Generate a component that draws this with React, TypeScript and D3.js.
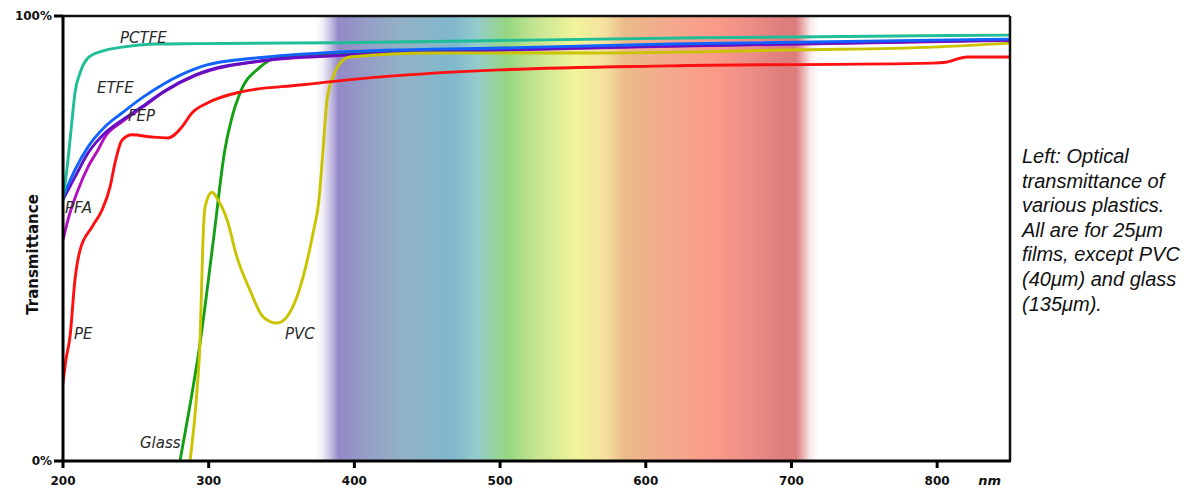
import React from "react";
import * as d3 from "d3";

// ---- data (wavelength nm, transmittance %) ----
const PCTFE: [number, number][] = [
  [200, 58.7], [203.4, 67.6], [206.2, 76.6], [208.2, 82.7], [211.7, 87.2], [217.2, 90.6],
  [226.8, 92.1], [240.5, 93.0], [263.1, 93.7], [290.6, 93.8], [390, 94.0], [500, 94.5],
  [637, 95.1], [850, 95.7],
];
const ETFE: [number, number][] = [
  [200, 59.3], [208.2, 65.4], [217.2, 70.6], [228.8, 75.1], [240.5, 78.2], [254.2, 81.6],
  [270, 84.9], [290.6, 88.1], [298.8, 89.0], [340, 90.8], [390, 91.9], [500, 92.8],
  [616.6, 93.7], [850, 94.8],
];
const FEP: [number, number][] = [
  [200, 58.8], [208.2, 63.8], [217.2, 69.2], [228.8, 73.7], [240.5, 76.6], [254.2, 79.6],
  [270, 83.2], [290.6, 86.7], [340, 90.1], [390, 91.2], [500, 92.4], [616.6, 93.3],
  [850, 94.6],
];
const PFA: [number, number][] = [
  [200, 49.7], [203.4, 54.2], [210.3, 60.9], [217.2, 66.1], [224, 69.9], [228.8, 72.8],
  [240.5, 76.2], [254.2, 79.4], [270, 83.1], [290.6, 86.6], [340, 90.0], [390, 91.1],
  [500, 92.3], [616.6, 93.2], [850, 94.5],
];
const PE: [number, number][] = [
  [200, 17.5], [202, 22.7], [204.8, 27.9], [208.2, 40.7], [211.7, 47.4], [219.9, 52.6],
  [226.8, 56.4], [232.3, 61.6], [235.7, 67.0], [240.5, 72.1], [247.4, 73.3], [261.1, 72.8],
  [272.1, 72.6], [281.7, 75.1], [288.5, 78.2], [298.8, 80.4], [321.5, 82.9], [362.7, 84.5],
  [424.4, 86.5], [500, 87.9], [616.6, 88.8], [797.1, 89.4], [806, 89.6], [820.5, 90.8],
  [850, 90.8],
];
const GLASS: [number, number][] = [
  [280.3, 0], [287.2, 12.6], [294, 26.3], [302.9, 48.8], [311.2, 70.1], [316, 77.3],
  [321.5, 82.7], [335.2, 88.5], [346.9, 90.6], [390, 91.7], [500, 92.6], [850, 94.6],
];
const PVC: [number, number][] = [
  [287.2, 0], [292, 16], [294, 26.5], [295.4, 42.2], [296.1, 49.7], [297.5, 57.1],
  [302.3, 60.4], [306.4, 58.7], [312.6, 54.2], [319.4, 45.8], [328.3, 38.4], [337.3, 32.4],
  [346.9, 31.0], [353.7, 32.4], [360.6, 36.9], [371.6, 51.2], [375.7, 58.7], [378.5, 70.0],
  [381.2, 81.1], [385.3, 86.3], [392.2, 90.1], [397, 90.8], [454, 91.7], [568.6, 91.7],
  [705.8, 92.4], [797.1, 93.0], [850, 93.9],
];

const X_TICKS = [200, 300, 400, 500, 600, 700, 800];
const Y_TICKS: [number, string][] = [[0, "0%"], [100, "100%"]];

const SPECTRUM: [number, string][] = [
  [373, "#ffffff"], [378, "#f2f0f8"], [384, "#c4bce0"], [389, "#9489c8"], [410, "#959fc6"],
  [433, "#93b2c6"], [468, "#7fb8cc"], [484, "#94cccc"], [505, "#96d780"], [526, "#c8e594"],
  [552, "#f2f49a"], [572, "#f4e0a0"], [586, "#ebb98a"], [619, "#f4a88d"], [646, "#fb9b8a"],
  [670, "#ee8f88"], [695, "#dd7d7d"], [703, "#dc7c7b"], [708, "#eab0b0"], [713, "#f8eaea"],
  [719, "#ffffff"],
];

const SERIES: { name: string; data: [number, number][]; color: string }[] = [
  { name: "Glass", data: GLASS, color: "#12a012" },
  { name: "PFA", data: PFA, color: "#b30fbd" },
  { name: "FEP", data: FEP, color: "#6010c4" },
  { name: "ETFE", data: ETFE, color: "#1063ff" },
  { name: "PCTFE", data: PCTFE, color: "#1fbe98" },
  { name: "PVC", data: PVC, color: "#cac400" },
  { name: "PE", data: PE, color: "#ff1010" },
];

const LABELS: [string, number, number][] = [
  ["PCTFE", 239.1, 93.9],
  ["ETFE", 223.3, 82.7],
  ["FEP", 244.6, 76.4],
  ["PFA", 201.4, 55.7],
  ["PE", 207.5, 27.4],
  ["PVC", 352.4, 27.4],
  ["Glass", 252.8, 2.9],
];

const CAPTION = [
  "Left: Optical",
  "transmittance of",
  "various plastics.",
  "All are for 25μm",
  "films, except PVC",
  "(40μm) and glass",
  "(135μm).",
];

export default function App() {
  const W = 1203;
  const H = 488;
  const x = d3.scaleLinear().domain([200, 850]).range([63, 1010]);
  const y = d3.scaleLinear().domain([0, 100]).range([461, 16]);
  const line = d3
    .line<[number, number]>()
    .x((d) => x(d[0]))
    .y((d) => y(d[1]))
    .curve(d3.curveMonotoneX);

  const sx0 = x(SPECTRUM[0][0]);
  const sx1 = x(SPECTRUM[SPECTRUM.length - 1][0]);
  const boldFont = "'DejaVu Sans', sans-serif";

  return (
    <svg
      width={W}
      height={H}
      style={{ position: "absolute", left: 0, top: 0, background: "#fff" }}
    >
      <defs>
        <linearGradient id="spec" gradientUnits="userSpaceOnUse" x1={sx0} x2={sx1} y1={0} y2={0}>
          {SPECTRUM.map(([nm, c], i) => (
            <stop key={i} offset={(x(nm) - sx0) / (sx1 - sx0)} stopColor={c} />
          ))}
        </linearGradient>
        <clipPath id="plot">
          <rect x={x(200)} y={y(100)} width={x(850) - x(200)} height={y(0) - y(100)} />
        </clipPath>
      </defs>
      <rect x={0} y={0} width={W} height={H} fill="#fff" />
      <rect
        x={sx0}
        y={y(100)}
        width={sx1 - sx0}
        height={y(0) - y(100)}
        fill="url(#spec)"
      />
      <g clipPath="url(#plot)">
        {SERIES.map((s) => (
          <path
            key={s.name}
            d={line(s.data) || ""}
            fill="none"
            stroke={s.color}
            strokeWidth={2.9}
            strokeLinejoin="round"
            strokeLinecap="round"
          />
        ))}
      </g>
      {LABELS.map(([t, nm, v]) => (
        <text
          key={t}
          x={x(nm)}
          y={y(v)}
          fontFamily="'DejaVu Sans', sans-serif"
          fontStyle="italic"
          fontSize={15}
          fill="#2a2a2a"
        >
          {t}
        </text>
      ))}
      {/* frame */}
      <line x1={x(200)} x2={x(850)} y1={y(100)} y2={y(100)} stroke="#111" strokeWidth={2.5} />
      <line x1={x(850)} x2={x(850)} y1={y(100)} y2={y(0)} stroke="#111" strokeWidth={2.5} />
      {/* axes */}
      <line x1={x(200)} x2={x(200)} y1={y(100) - 1} y2={y(0) + 1} stroke="#000" strokeWidth={3} />
      <line x1={x(200) - 1} x2={x(850) + 1} y1={y(0)} y2={y(0)} stroke="#000" strokeWidth={3} />
      {Y_TICKS.map(([v, lab]) => (
        <g key={lab}>
          <line x1={x(200) - 9} x2={x(200)} y1={y(v)} y2={y(v)} stroke="#000" strokeWidth={3} />
          <text
            x={x(200) - 11}
            y={y(v)}
            dy="0.36em"
            textAnchor="end"
            fontFamily={boldFont}
            fontWeight="bold"
            fontSize={12}
            fill="#111"
          >
            {lab}
          </text>
        </g>
      ))}
      {X_TICKS.map((t) => (
        <g key={t}>
          <line x1={x(t)} x2={x(t)} y1={y(0)} y2={y(0) + 7} stroke="#000" strokeWidth={3} />
          <text
            x={x(t)}
            y={485}
            textAnchor="middle"
            fontFamily={boldFont}
            fontWeight="bold"
            fontSize={12}
            fill="#111"
          >
            {t}
          </text>
        </g>
      ))}
      <text
        x={x(836)}
        y={485}
        textAnchor="middle"
        fontFamily={boldFont}
        fontWeight="bold"
        fontStyle="italic"
        fontSize={13}
        fill="#111"
      >
        nm
      </text>
      <text
        transform={`translate(38, ${(y(0) + y(100)) / 2 + 16}) rotate(-90)`}
        textAnchor="middle"
        fontFamily={boldFont}
        fontWeight="bold"
        fontSize={15}
        fill="#111"
      >
        Transmittance
      </text>
      {CAPTION.map((c, i) => (
        <text
          key={i}
          x={1022}
          y={163 + i * 24.6}
          fontFamily="'Liberation Sans', Arial, sans-serif"
          fontStyle="italic"
          fontSize={20}
          fill="#111"
        >
          {c}
        </text>
      ))}
    </svg>
  );
}
